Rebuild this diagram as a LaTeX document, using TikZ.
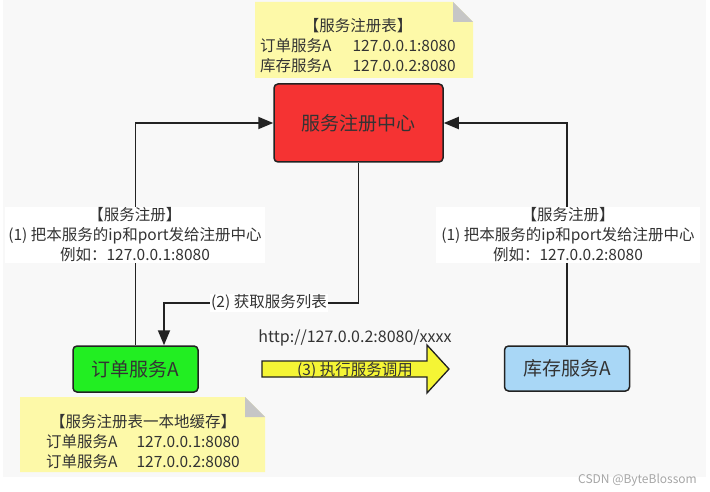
\documentclass[tikz,border=0pt]{standalone}
\usepackage{fontspec}
\setmainfont{Noto Sans CJK SC}
\usetikzlibrary{arrows.meta,calc}
\definecolor{bgc}{HTML}{F8F8F8}
\definecolor{linec}{HTML}{222222}
\definecolor{txt}{HTML}{333333}
\definecolor{regred}{HTML}{F53333}
\definecolor{ordgreen}{HTML}{22EE22}
\definecolor{stockblue}{HTML}{A9D7F6}
\definecolor{noteyel}{HTML}{FDF9A8}
\definecolor{foldgray}{HTML}{C6C6C6}
\definecolor{bigyel}{HTML}{F5F535}
\tikzset{
  svc/.style={draw=linec, line width=1.5pt, rounded corners=4pt, text=txt,
    font=\fontsize{19}{22}\selectfont, inner sep=0pt},
  lbl/.style={fill=white, text=txt, align=center, inner sep=0pt,
    font=\fontsize{15.5}{20}\selectfont},
  notetxt/.style={text=txt, align=center, inner sep=0pt,
    font=\fontsize{15.5}{20}\selectfont},
  conn/.style={draw=linec, line width=1.9pt, -{Triangle[length=15pt,width=12pt]}},
}
\begin{document}
\begin{tikzpicture}[x=1pt,y=-1pt]
\useasboundingbox (0,0) rectangle (710,492);
\fill[white] (0,0) rectangle (710,492);
\fill[bgc] (3,0) rectangle (706,477);

% top note
\fill[noteyel] (255,2) -- (453,2) -- (473,22) -- (473,78) -- (255,78) -- cycle;
\fill[foldgray] (453,2) -- (473,22) -- (453,22) -- cycle;
\node[notetxt] (tnote) at (358,46) {【服务注册表】\\订单服务A\hspace{21pt}127.0.0.1:8080\\库存服务A\hspace{21pt}127.0.0.2:8080};

% bottom note
\fill[noteyel] (20,397) -- (245,397) -- (265,417) -- (265,472) -- (20,472) -- cycle;
\fill[foldgray] (245,397) -- (265,417) -- (245,417) -- cycle;
\node[notetxt] (bnote) at (143,442) {【服务注册表一本地缓存】\\订单服务A\hspace{19pt}127.0.0.1:8080\\订单服务A\hspace{19pt}127.0.0.2:8080};

% service nodes
\node[svc, fill=regred, minimum width=169pt, minimum height=78pt] (reg) at (358.5,123) {服务注册中心};
\node[svc, fill=ordgreen, minimum width=125pt, minimum height=46pt] (order) at (135.5,369) {订单服务A};
\node[svc, fill=stockblue, minimum width=125pt, minimum height=45pt] (stock) at (567,368.5) {库存服务A};

% connectors
\draw[conn] (order.north) |- (reg.west);
\draw[conn] (stock.north) |- (reg.east);
\coordinate (c2) at (164,303);
\draw[conn] (reg.south) |- (c2) -- (c2 |- order.north);

% labels
\node[lbl, minimum width=260pt, minimum height=56pt] (l1) at (135,235) {【服务注册】\\(1) 把本服务的ip和port发给注册中心\\例如：127.0.0.1:8080};
\node[lbl, minimum width=264pt, minimum height=56pt] (l2) at (568,235) {【服务注册】\\(1) 把本服务的ip和port发给注册中心\\例如：127.0.0.2:8080};
\node[lbl, inner xsep=1pt, inner ysep=1pt] (l3) at (269,303) {(2) 获取服务列表};

% big call arrow
\filldraw[fill=bigyel, draw=linec, line width=1.3pt, line join=miter]
  (262,361) -- (427,361) -- (427,345) -- (449,369) -- (427,393) -- (427,377) -- (262,377) -- cycle;
\node[notetxt] (l4) at (355,370) {(3) 执行服务调用};
\node[notetxt, font=\fontsize{16}{20}\selectfont] (url) at (355,338) {http://127.0.0.2:8080/xxxx};

% watermark
\node[text=black!35, inner sep=0pt, font=\fontsize{12}{14}\selectfont, anchor=east] (wm) at (697,480) {CSDN @ByteBlossom};
\end{tikzpicture}
\end{document}
